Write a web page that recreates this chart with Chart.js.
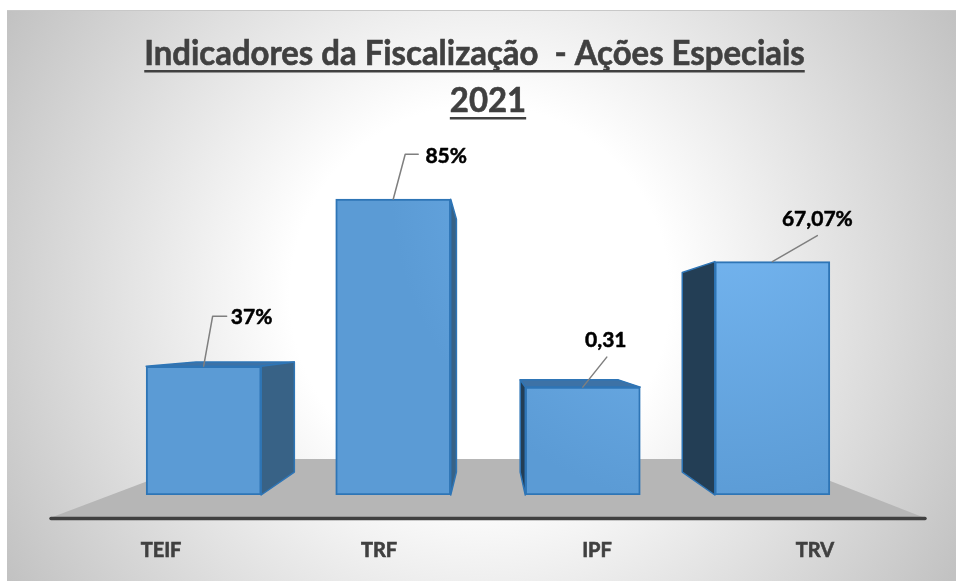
<!DOCTYPE html>
<html>
<head>
<meta charset="utf-8">
<style>
  html, body { margin: 0; padding: 0; background: #fff; }
  canvas { display: block; }
</style>
<script src="https://cdn.jsdelivr.net/npm/chart.js@4"></script>
</head>
<body>
<canvas id="chart" width="956" height="581"></canvas>
<script>
const categories = ['TEIF', 'TRF', 'IPF', 'TRV'];
const values = [37, 85, 31, 67.07];
const valueLabels = ['37%', '85%', '0,31', '67,07%'];
const titleLines = ['Indicadores da Fiscalização  - Ações Especiais', '2021'];

// leader line bends and label spots, relative to the top centre of each bar
const leaders = [
  { pts: [[9, -50], [23, -50]], text: [48, -49] },
  { pts: [[12, -45], [25, -45]], text: [53, -43] },
  { pts: [[24, -30]], text: [23, -47] },
  { pts: [[45, -26]], text: [45, -42] }
];

const FONT = 'Lato, "Noto Sans", sans-serif';
// fake perspective of the old 3D column chart
const VANISH_X = 490, VANISH_Y = 337, DEPTH = 0.855;
const back = (x, y) => [VANISH_X + DEPTH * (x - VANISH_X), VANISH_Y + DEPTH * (y - VANISH_Y)];

function poly(ctx, pts, fill) {
  ctx.beginPath();
  pts.forEach((p, i) => i ? ctx.lineTo(p[0], p[1]) : ctx.moveTo(p[0], p[1]));
  ctx.closePath();
  ctx.fillStyle = fill;
  ctx.fill();
  ctx.lineWidth = 1.5;
  ctx.lineJoin = 'round';
  ctx.strokeStyle = '#2E75B6';
  ctx.stroke();
}

const scenery = {
  id: 'scenery',
  beforeDraw(chart) {
    const { ctx, width, height } = chart;
    // frame with soft radial background
    ctx.fillStyle = '#fff';
    ctx.fillRect(0, 0, width, height);
    const bg = ctx.createRadialGradient(480, 295, 190, 480, 295, 550);
    bg.addColorStop(0, '#ffffff');
    bg.addColorStop(1, '#c2c2c2');
    ctx.fillStyle = bg;
    ctx.fillRect(7, 10, width - 7, height - 10);
    ctx.fillStyle = '#c8c8c8';
    ctx.fillRect(7, 10, width - 7, 1);

    // floor
    ctx.beginPath();
    ctx.moveTo(50, 518);
    ctx.lineTo(206, 459);
    ctx.lineTo(774, 459);
    ctx.lineTo(925, 518);
    ctx.closePath();
    ctx.fillStyle = '#b6b6b6';
    ctx.fill();
    ctx.beginPath();
    ctx.moveTo(51, 518.5);
    ctx.lineTo(925, 518.5);
    ctx.lineWidth = 3.5;
    ctx.lineCap = 'round';
    ctx.strokeStyle = '#404040';
    ctx.stroke();

    // title, underlined by hand since canvas text has no underline
    ctx.textBaseline = 'alphabetic';
    ctx.textAlign = 'center';
    [[titleLines[0], 474.5, 65], [titleLines[1], 488, 112]].forEach(([text, x, y]) => {
      ctx.save();
      ctx.translate(x, y);
      ctx.scale(0.94, 1);
      ctx.font = 'bold 35px ' + FONT;
      ctx.fillStyle = '#404040';
      ctx.strokeStyle = '#404040';
      ctx.lineWidth = 0.6;
      ctx.fillText(text, 0, 0);
      ctx.strokeText(text, 0, 0);
      const w = ctx.measureText(text).width;
      ctx.fillRect(-w / 2, 5, w, 2.5);
      ctx.restore();
    });
  },
  beforeDatasetsDraw(chart) {
    const { ctx } = chart;
    chart.getDatasetMeta(0).data.forEach(bar => {
      const l = bar.x - bar.width / 2, r = bar.x + bar.width / 2;
      const t = bar.y, b = bar.base;
      const top = [[l, t], [r, t], back(r, t), back(l, t)];
      if (back(0, t)[1] < t) poly(ctx, top, '#3D72A6');
      if (r < VANISH_X) poly(ctx, [[r, t], back(r, t), back(r, b), [r, b]], '#386286');
      if (l > VANISH_X) poly(ctx, [[l, t], back(l, t), back(l, b), [l, b]], '#233E55');
    });
  },
  afterDatasetsDraw(chart) {
    const { ctx } = chart;
    chart.getDatasetMeta(0).data.forEach((bar, i) => {
      const lead = leaders[i];
      ctx.beginPath();
      ctx.moveTo(bar.x, bar.y);
      lead.pts.forEach(p => ctx.lineTo(bar.x + p[0], bar.y + p[1]));
      ctx.lineWidth = 1.5;
      ctx.strokeStyle = '#7f7f7f';
      ctx.stroke();
      ctx.font = 'bold 21px ' + FONT;
      ctx.fillStyle = '#000';
      ctx.strokeStyle = '#000';
      ctx.lineWidth = 0.5;
      ctx.textBaseline = 'middle';
      ctx.textAlign = 'center';
      ctx.fillText(valueLabels[i], bar.x + lead.text[0], bar.y + lead.text[1]);
      ctx.strokeText(valueLabels[i], bar.x + lead.text[0], bar.y + lead.text[1]);
    });
  }
};

const ctx = document.getElementById('chart').getContext('2d');
// light spot on the front faces, stronger towards the upper right
const barFill = ctx.createRadialGradient(720, 180, 0, 720, 180, 330);
barFill.addColorStop(0, '#78B9F4');
barFill.addColorStop(1, '#5B9BD5');

new Chart(ctx, {
  type: 'bar',
  data: {
    labels: categories,
    datasets: [{
      data: values.map((v, i) => ({ x: i, y: v })),
      xAxisID: 'xBars',
      backgroundColor: barFill,
      borderColor: '#2E75B6',
      borderWidth: 2,
      borderSkipped: false,
      barThickness: 115
    }]
  },
  options: {
    responsive: false,
    animation: false,
    layout: { padding: { left: 52, right: 32, top: 147, bottom: 0 } },
    plugins: { legend: { display: false }, tooltip: { enabled: false }, title: { display: false } },
    scales: {
      x: {
        type: 'category',
        position: 'bottom',
        grid: { display: false, drawTicks: false },
        border: { display: false },
        afterFit(scale) { scale.height = 86; },
        ticks: {
          color: '#404040',
          textStrokeColor: '#404040',
          textStrokeWidth: 0.6,
          padding: 44,
          maxRotation: 0,
          font: { family: FONT, size: 20, weight: 'bold' }
        }
      },
      // bars sit further back than the axis labels, so they get a narrower scale
      xBars: { type: 'linear', display: false, offset: false, min: -0.8, max: 3.8 },
      y: { display: false, min: 0, max: 100 }
    }
  },
  plugins: [scenery]
});
</script>
</body>
</html>
